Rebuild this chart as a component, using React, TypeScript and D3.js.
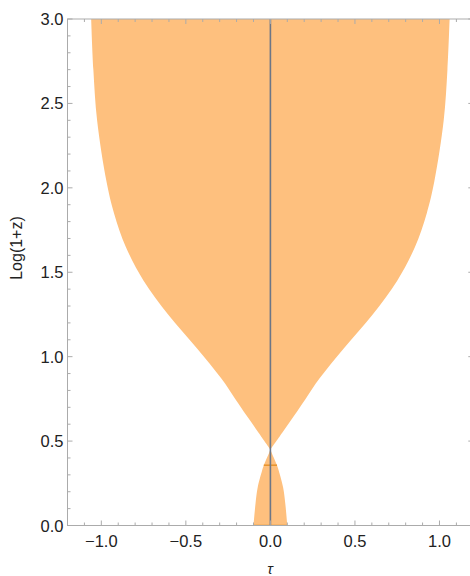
import React from "react";
import * as d3 from "d3";

// Upper lobe: Log(1+z) values and half-width in τ
const upperZ = [0.45, 0.55, 0.65, 0.75, 0.87, 1.05, 1.25, 1.45, 1.65, 1.85, 2.04, 2.4, 2.7, 3.0];
const upperHalfWidth = [0, 0.07, 0.14, 0.208, 0.29, 0.435, 0.605, 0.75, 0.855, 0.925, 0.97, 1.025, 1.047, 1.06];
// Lower lobe
const lowerZ = [0.0, 0.13, 0.227, 0.326, 0.357, 0.43, 0.45];
const lowerHalfWidth = [0.1, 0.088, 0.075, 0.049, 0.039, 0.008, 0];
// Boundary segments drawn (Log(1+z) levels)
const boundaryLevels = [0.0, 0.357];

const xTickValues = [-1.0, -0.5, 0.0, 0.5, 1.0];
const yTickValues = [0.0, 0.5, 1.0, 1.5, 2.0, 2.5, 3.0];
const xDomain = [-1.2, 1.2];
const yDomain = [0, 3];

const W = 470, H = 576;
const left = 67.5, right = 473.3, top = 19, bottom = 525.5;

export default function App() {
  const x = d3.scaleLinear().domain(xDomain).range([left, right]);
  const y = d3.scaleLinear().domain(yDomain).range([bottom, top]);

  const upper = upperZ.map((z, i) => ({ z, w: upperHalfWidth[i] }));
  const lower = lowerZ.map((z, i) => ({ z, w: lowerHalfWidth[i] }));
  const area = d3
    .area<{ z: number; w: number }>()
    .y((d) => y(d.z))
    .x0((d) => x(-d.w))
    .x1((d) => x(d.w))
    .curve(d3.curveCatmullRom.alpha(0.5));

  const hwLower = d3.scaleLinear().domain(lowerZ).range(lowerHalfWidth);

  const minorX = d3.range(-12, 13).map((k) => k / 10);
  const minorY = d3.range(0, 31).map((k) => k / 10);
  const isMajor = (v: number) => Math.abs(v * 2 - Math.round(v * 2)) < 1e-6;

  const frame = "#ababab";
  const font = "'Liberation Sans', Arial, sans-serif";

  return (
    <svg width={W} height={H} style={{ position: "absolute", left: 0, top: 0 }}>
      <defs>
        <clipPath id="plotclip">
          <rect x={left} y={top} width={right - left} height={bottom - top} />
        </clipPath>
      </defs>
      <g clipPath="url(#plotclip)">
        <path d={area(upper) || ""} fill="#fec07e" />
        <path d={area(lower) || ""} fill="#fec07e" />
        {boundaryLevels.map((z, i) => (
          <line
            key={i}
            x1={x(-hwLower(z))}
            x2={x(hwLower(z))}
            y1={y(z)}
            y2={y(z)}
            stroke="#e8952e"
            strokeWidth={1.6}
          />
        ))}
        <line x1={x(0)} x2={x(0)} y1={y(0)} y2={y(3)} stroke="#6c7686" strokeWidth={1.6} />
      </g>
      {/* frame */}
      <rect x={left} y={top} width={right - left} height={bottom - top} fill="none" stroke={frame} strokeWidth={1} />
      {minorX.map((v, i) => {
        const len = isMajor(v) ? 5 : 3;
        return (
          <g key={"xt" + i}>
            <line x1={x(v)} x2={x(v)} y1={bottom} y2={bottom - len} stroke={frame} />
            <line x1={x(v)} x2={x(v)} y1={top} y2={top + len} stroke={frame} />
          </g>
        );
      })}
      {minorY.map((v, i) => {
        const len = isMajor(v) ? 5 : 3;
        return (
          <g key={"yt" + i}>
            <line x1={left} x2={left + len} y1={y(v)} y2={y(v)} stroke={frame} />
            <line x1={right} x2={right - len} y1={y(v)} y2={y(v)} stroke={frame} />
          </g>
        );
      })}
      {xTickValues.map((v, i) => (
        <text key={"xl" + i} x={x(v)} y={547} textAnchor="middle" fontFamily={font} fontSize={16.5} fill="#222">
          {(v < 0 ? "\u2212" : "") + Math.abs(v).toFixed(1)}
        </text>
      ))}
      {yTickValues.map((v, i) => (
        <text key={"yl" + i} x={63.5} y={y(v) + 6} textAnchor="end" fontFamily={font} fontSize={16.5} fill="#222">
          {v.toFixed(1)}
        </text>
      ))}
      <text x={270} y={574} textAnchor="middle" fontFamily={font} fontSize={15} fontStyle="italic" fill="#222">
        τ
      </text>
      <text
        transform={`translate(22,248) rotate(-90)`}
        textAnchor="middle"
        fontFamily={font}
        fontSize={16}
        fill="#222"
      >
        Log(1+z)
      </text>
    </svg>
  );
}
